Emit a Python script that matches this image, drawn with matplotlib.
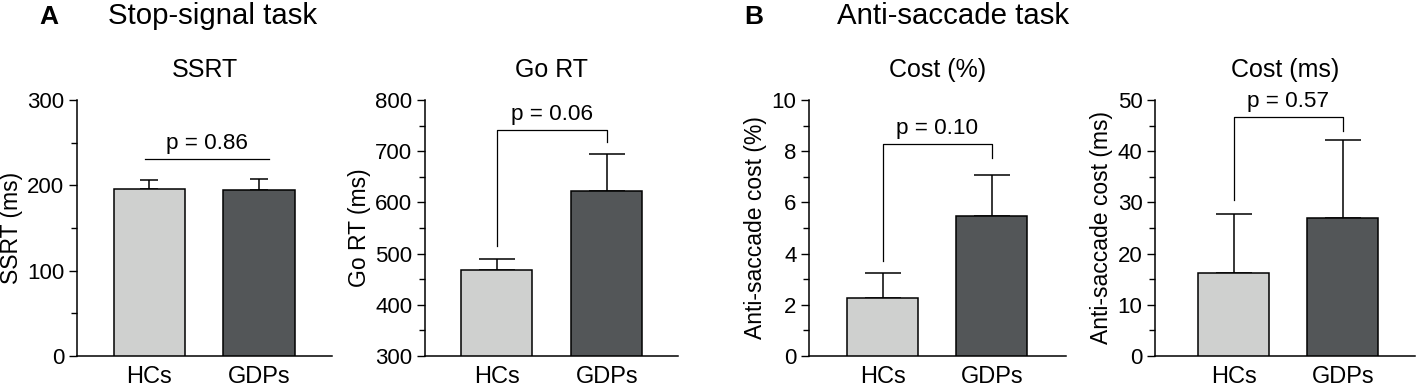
import matplotlib
matplotlib.use("Agg")
import matplotlib.pyplot as plt
from matplotlib.ticker import MultipleLocator

plt.rcParams['font.family'] = ['Liberation Sans', 'DejaVu Sans']

groups = ["HCs", "GDPs"]
titles = ["SSRT", "Go RT", "Cost (%)", "Cost (ms)"]
ylabels = ["SSRT (ms)", "Go RT (ms)", "Anti-saccade cost (%)", "Anti-saccade cost (ms)"]
means = [[196, 194], [467, 622], [2.28, 5.45], [16.2, 27.0]]
err_top = [[206, 207.5], [490, 694], [3.25, 7.06], [27.7, 42.2]]
pvals = ["p = 0.86", "p = 0.06", "p = 0.10", "p = 0.57"]
bracket_y = [231, 742, 8.28, 46.7]
leg_left = [None, 515, 3.73, 30.5]
leg_right = [None, 717, 7.74, 44.0]
ylims = [(0, 300), (300, 800), (0, 10), (0, 50)]
majors = [100, 100, 2, 10]
minors = [50, 50, 1, 5]

W, H = 1418, 385
fig = plt.figure(figsize=(W / 100, H / 100), dpi=100)

# pixel layout: (left, right) of axes, xlim
rects = [(77, 332, (-0.662, 1.667)),
         (425, 678, (-0.652, 1.648)),
         (809, 1066, (-0.673, 1.68)),
         (1155, 1415, (-0.72, 1.66))]
ytop, ybot = 100, 356
capsizes = [6.8, 13.3, 13.3, 13.3]
colors = ["#cfd0cf", "#535658"]
fs_tick = 16
fs_x = 17
fs_p = 16.2
fs_lab = 16.5
fs_title = 18

for i in range(4):
    x0, x1, xl = rects[i]
    ax = fig.add_axes([x0 / W, (H - ybot) / H, (x1 - x0) / W, (ybot - ytop) / H])
    lo = ylims[i][0]
    xs = [0, 1]
    ax.bar(xs, [m - lo for m in means[i]], bottom=lo, width=0.65, color=colors,
           edgecolor="black", linewidth=1.1, zorder=3)
    for x, m, e in zip(xs, means[i], err_top[i]):
        ax.errorbar([x], [m], yerr=[[0], [e - m]], fmt="none", ecolor="black",
                    elinewidth=1.1, capsize=capsizes[i], capthick=1.1, zorder=2)
    if leg_left[i] is None:
        ax.plot([-0.04, 1.09], [bracket_y[i]] * 2, color="black", lw=0.9)
        tx = 0.525
    else:
        ax.plot([0, 0, 1, 1], [leg_left[i], bracket_y[i], bracket_y[i], leg_right[i]],
                color="black", lw=0.9)
        tx = 0.5
    ax.annotate(pvals[i], (tx, bracket_y[i]), xytext=(0, 11.0), textcoords="offset points",
                ha="center", va="center", fontsize=fs_p)
    ax.set_xlim(*xl)
    ax.set_ylim(*ylims[i])
    ax.yaxis.set_major_locator(MultipleLocator(majors[i]))
    ax.yaxis.set_minor_locator(MultipleLocator(minors[i]))
    ax.tick_params(axis="y", which="major", length=6, width=1.0, labelsize=fs_tick, pad=3)
    ax.tick_params(axis="y", which="minor", length=4.5, width=1.0)
    ax.set_xticks(xs)
    ax.set_xticklabels(groups)
    ax.tick_params(axis="x", length=0, labelsize=fs_x, pad=7)
    for s in ["top", "right"]:
        ax.spines[s].set_visible(False)
    for s in ["left", "bottom"]:
        ax.spines[s].set_linewidth(1.1)
    ax.set_ylabel(ylabels[i], fontsize=fs_lab, labelpad=3)
    ax.set_title(titles[i], fontsize=fs_title, pad=16.5)

fig.text(39 / W, 1 - 17 / H, "A", fontsize=19, fontweight="bold", va="center", ha="left")
fig.text(108 / W, 1 - 16 / H, "Stop-signal task", fontsize=21.2, va="center", ha="left")
fig.text(744 / W, 1 - 17 / H, "B", fontsize=19, fontweight="bold", va="center", ha="left")
fig.text(837 / W, 1 - 16 / H, "Anti-saccade task", fontsize=21.2, va="center", ha="left")

fig.savefig("out.png", dpi=100)
